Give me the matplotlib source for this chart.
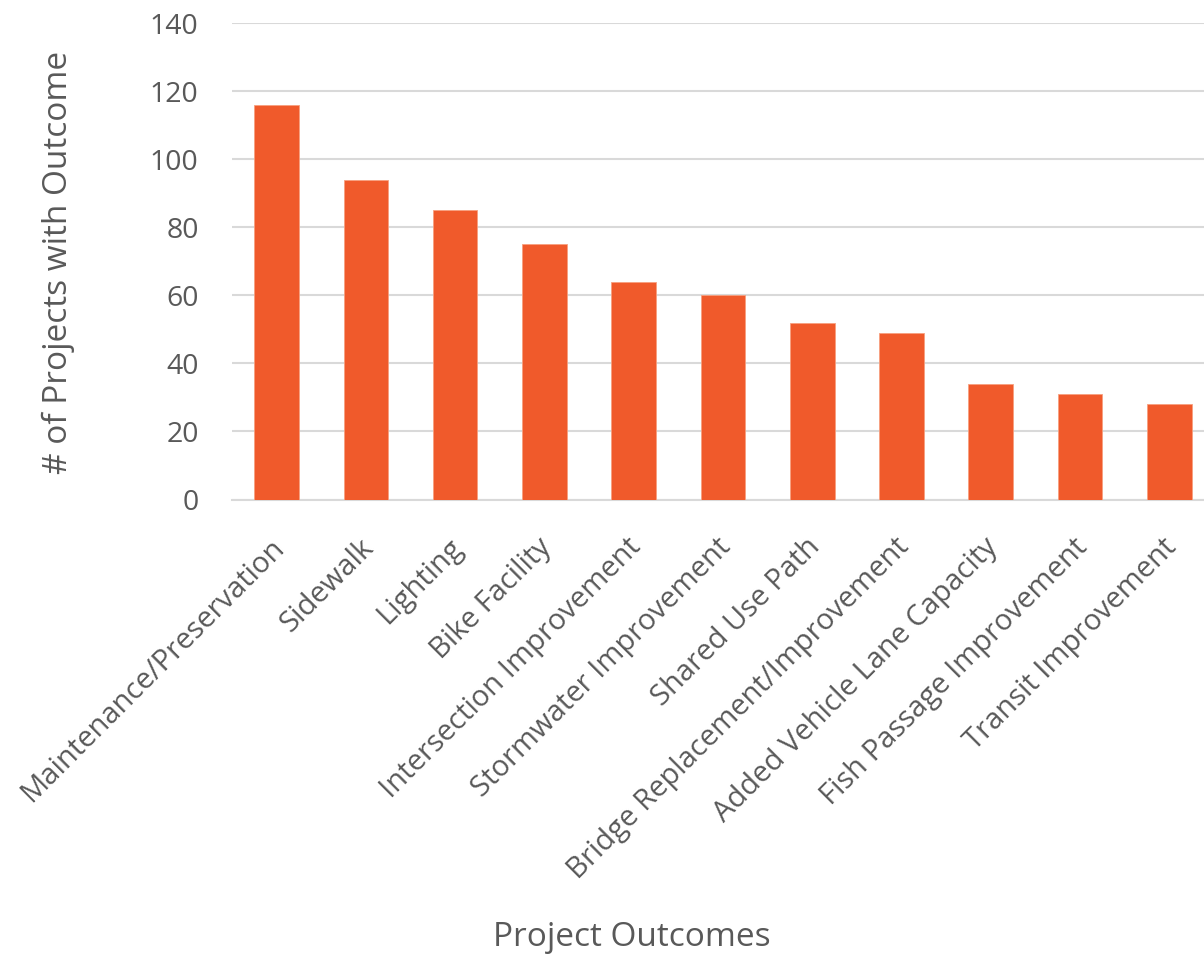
import matplotlib
matplotlib.use("Agg")
import matplotlib.pyplot as plt
from matplotlib.transforms import ScaledTranslation

categories = [
    "Maintenance/Preservation",
    "Sidewalk",
    "Lighting",
    "Bike Facility",
    "Intersection Improvement",
    "Stormwater Improvement",
    "Shared Use Path",
    "Bridge Replacement/Improvement",
    "Added Vehicle Lane Capacity",
    "Fish Passage Improvement",
    "Transit Improvement",
]
counts = [116, 94, 85, 75, 64, 60, 52, 49, 34, 31, 28]
y_ticks = [0, 20, 40, 60, 80, 100, 120, 140]

text_color = "#595959"
bar_color = "#F05A2B"
grid_color = "#D9D9D9"

plt.rcParams["font.family"] = ["Open Sans", "DejaVu Sans"]

fig = plt.figure(figsize=(12.04, 9.59), dpi=100)
W, H = 1204, 959
ax = fig.add_axes([232 / W, (H - 499.5) / H, (1214 - 232) / W, (499.5 - 23) / H])

x = list(range(len(categories)))
ax.bar(x, counts, width=0.5, color=bar_color, edgecolor="#F7A07F",
       linewidth=0.6, zorder=3)

ax.set_xlim(-0.5, len(categories) - 0.5)
ax.set_ylim(0, 140)
ax.set_yticks(y_ticks)
ax.set_yticklabels([str(v) for v in y_ticks], fontsize=20.5, color=text_color)
ax.yaxis.grid(True, color=grid_color, linewidth=1.5, zorder=0)
ax.set_axisbelow(True)

ax.set_xticks(x)
ax.set_xticklabels(categories, rotation=45, ha="right", rotation_mode="anchor",
                   fontsize=21, color=text_color)
ax.tick_params(axis="both", length=0)
ax.tick_params(axis="x", pad=24)
ax.tick_params(axis="y", pad=24)

# nudge the slanted category labels slightly left
shift = ScaledTranslation(-7 / 100, 0, fig.dpi_scale_trans)
for lbl in ax.get_xticklabels():
    lbl.set_transform(lbl.get_transform() + shift)

for side in ["top", "right", "left"]:
    ax.spines[side].set_visible(False)
ax.spines["bottom"].set_color(grid_color)
ax.spines["bottom"].set_linewidth(1.5)

fig.text(632 / W, 1 - 938 / H, "Project Outcomes", ha="center", va="center",
         fontsize=24, color=text_color)
fig.text(58 / W, 1 - 262 / H, "# of Projects with Outcome", ha="center",
         va="center", rotation=90, fontsize=24, color=text_color)

fig.savefig("out.png", dpi=100)
